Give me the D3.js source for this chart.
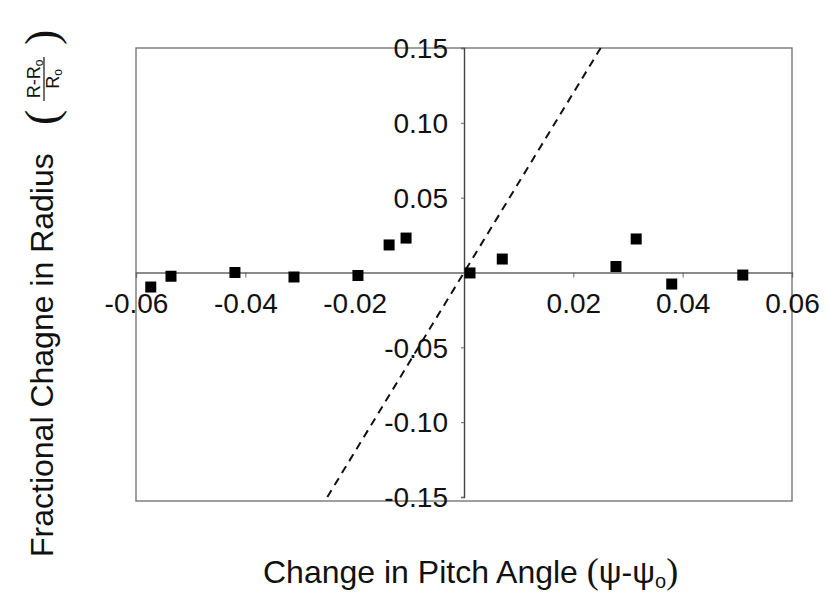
<!DOCTYPE html>
<html>
<head>
<meta charset="utf-8">
<script src="https://cdn.jsdelivr.net/npm/d3@7"></script>
<style>
  body { margin: 0; background: #fff; }
  text { font-family: "Liberation Sans", Arial, sans-serif; fill: #111; }
</style>
</head>
<body>
<svg id="chart" width="827" height="595"></svg>
<script>
// measured points (pitch angle change, fractional radius change)
const pitchChange = [-0.0573, -0.0536, -0.0419, -0.0311, -0.0194, -0.0137, -0.0106,
	0.0011, 0.0070, 0.0278, 0.0315, 0.0380, 0.0510];
const radiusChange = [-0.0097, -0.0025, 0.0000, -0.0030, -0.0020, 0.0184, 0.0230,
	-0.0003, 0.0090, 0.0040, 0.0224, -0.0077, -0.0017];

// dashed reference line
const refX = [-0.025, 0.025];
const refY = [-0.15, 0.15];

const xTicks = [-0.06, -0.04, -0.02, 0.02, 0.04, 0.06];
const yTicks = [-0.15, -0.10, -0.05, 0.05, 0.10, 0.15];

const svg = d3.select("#chart");

const x_scale = d3.scaleLinear().domain([-0.06, 0.06]).range([136, 792]);
const y_scale = d3.scaleLinear().domain([-0.15, 0.15]).range([497, 48]);

// plain hyphen instead of unicode minus
const fmt = (d) => d3.format(".2f")(d).replace("−", "-");

// frame
svg.append("rect")
	.attr("x", x_scale(-0.06))
	.attr("y", y_scale(0.15))
	.attr("width", x_scale(0.06) - x_scale(-0.06))
	.attr("height", y_scale(-0.15) - y_scale(0.15) + 4)
	.attr("fill", "none")
	.attr("stroke", "#777")
	.attr("stroke-width", 1.4);

// x axis through zero
const x_axis = d3.axisBottom(x_scale)
	.tickValues(xTicks)
	.tickSize(5)
	.tickFormat(fmt);
const gx = svg.append("g")
	.attr("transform", `translate(0,${y_scale(0)})`)
	.call(x_axis);
gx.select(".domain").attr("stroke", "#666").attr("stroke-width", 1.4);
gx.selectAll(".tick line").attr("stroke", "#666");
gx.selectAll(".tick text")
	.attr("y", 40)
	.attr("dy", 0)
	.style("font-size", "28px")
	.style("font-family", "Liberation Sans, Arial, sans-serif")
	.attr("fill", "#111");

// y axis through zero
const y_axis = d3.axisLeft(y_scale)
	.tickValues(yTicks)
	.tickSize(3)
	.tickFormat(fmt);
const gy = svg.append("g")
	.attr("transform", `translate(${x_scale(0)},0)`)
	.call(y_axis);
gy.select(".domain").attr("stroke", "#444").attr("stroke-width", 1.4);
gy.selectAll(".tick line").attr("stroke", "#666");
gy.selectAll(".tick text")
	.attr("x", -16)
	.attr("dy", "0.35em")
	.style("font-size", "28px")
	.style("font-family", "Liberation Sans, Arial, sans-serif")
	.attr("fill", "#111");

// dashed line
svg.append("line")
	.attr("x1", x_scale(refX[0]))
	.attr("y1", y_scale(refY[0]))
	.attr("x2", x_scale(refX[1]))
	.attr("y2", y_scale(refY[1]))
	.attr("stroke", "#111")
	.attr("stroke-width", 2)
	.attr("stroke-dasharray", "8,6");

// points
const size = 11;
svg.selectAll("rect.pt")
	.data(pitchChange.map((p, i) => [p, radiusChange[i]]))
	.join("rect")
	.attr("class", "pt")
	.attr("x", (d) => x_scale(d[0]) - size / 2)
	.attr("y", (d) => y_scale(d[1]) - size / 2)
	.attr("width", size)
	.attr("height", size)
	.attr("fill", "#000");

// x label
const xl = svg.append("text")
	.attr("x", 263)
	.attr("y", 583)
	.style("font-size", "32px");
xl.append("tspan").text("Change in Pitch Angle ");
xl.append("tspan").style("font-family", "Liberation Serif, serif").style("font-size", "36px").text("(");
xl.append("tspan").text("ψ-ψ");
xl.append("tspan").attr("dy", 5).style("font-size", "20px").text("o");
xl.append("tspan").attr("dy", -5).style("font-family", "Liberation Serif, serif").style("font-size", "36px").text(")");

// y label, rotated
const yl = svg.append("g").attr("transform", "translate(53,557) rotate(-90)");
yl.append("text")
	.attr("x", 0)
	.attr("y", 0)
	.style("font-size", "32px")
	.text("Fractional Chagne in Radius");
yl.append("text")
	.attr("x", 432)
	.attr("y", 4)
	.style("font-size", "46px")
	.style("font-family", "Liberation Serif, serif")
	.text("(");
const frac = yl.append("g").attr("transform", "translate(478,0)");
const num = frac.append("text")
	.attr("y", -13)
	.attr("text-anchor", "middle")
	.style("font-size", "18px");
num.append("tspan").text("R-R");
num.append("tspan").attr("dy", 3).style("font-size", "12px").text("o");
frac.append("line")
	.attr("x1", -22).attr("x2", 22)
	.attr("y1", -9).attr("y2", -9)
	.attr("stroke", "#111").attr("stroke-width", 1.2);
const den = frac.append("text")
	.attr("y", 6)
	.attr("text-anchor", "middle")
	.style("font-size", "18px");
den.append("tspan").text("R");
den.append("tspan").attr("dy", 3).style("font-size", "12px").text("o");
yl.append("text")
	.attr("x", 512)
	.attr("y", 4)
	.style("font-size", "46px")
	.style("font-family", "Liberation Serif, serif")
	.text(")");
</script>
</body>
</html>
